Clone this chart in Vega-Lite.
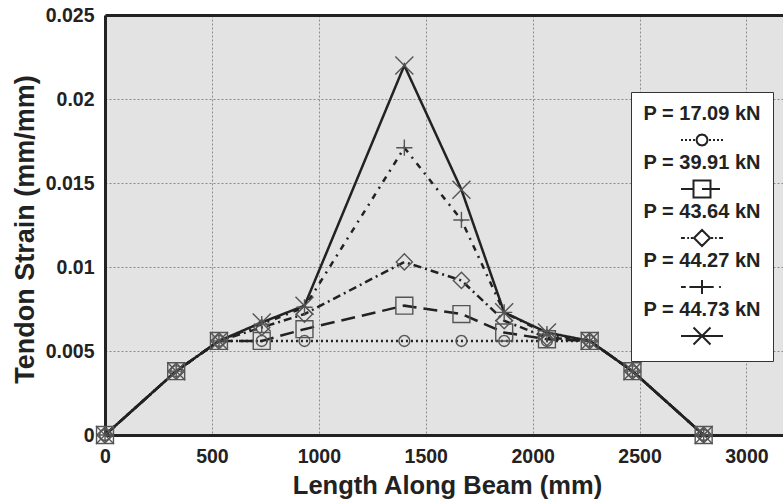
{
  "$schema": "https://vega.github.io/schema/vega-lite/v6.json",
  "width": 678,
  "height": 420,
  "autosize": {"type": "none"},
  "padding": {"left": 105, "top": 15, "right": 0, "bottom": 68},
  "background": "white",
  "config": {
    "font": "Liberation Sans",
    "view": {"fill": "#e3e3e3", "stroke": null}
  },
  "data": {
    "values": [
      {"length": 0, "strain": 0, "load": "P = 17.09 kN"},
      {"length": 333, "strain": 0.0038, "load": "P = 17.09 kN"},
      {"length": 533, "strain": 0.0056, "load": "P = 17.09 kN"},
      {"length": 733, "strain": 0.0056, "load": "P = 17.09 kN"},
      {"length": 933, "strain": 0.0056, "load": "P = 17.09 kN"},
      {"length": 1400, "strain": 0.0056, "load": "P = 17.09 kN"},
      {"length": 1667, "strain": 0.0056, "load": "P = 17.09 kN"},
      {"length": 1867, "strain": 0.0056, "load": "P = 17.09 kN"},
      {"length": 2067, "strain": 0.0056, "load": "P = 17.09 kN"},
      {"length": 2267, "strain": 0.0056, "load": "P = 17.09 kN"},
      {"length": 2467, "strain": 0.0038, "load": "P = 17.09 kN"},
      {"length": 2800, "strain": 0, "load": "P = 17.09 kN"},
      {"length": 0, "strain": 0, "load": "P = 39.91 kN"},
      {"length": 333, "strain": 0.0038, "load": "P = 39.91 kN"},
      {"length": 533, "strain": 0.0056, "load": "P = 39.91 kN"},
      {"length": 733, "strain": 0.0056, "load": "P = 39.91 kN"},
      {"length": 933, "strain": 0.0063, "load": "P = 39.91 kN"},
      {"length": 1400, "strain": 0.0077, "load": "P = 39.91 kN"},
      {"length": 1667, "strain": 0.0072, "load": "P = 39.91 kN"},
      {"length": 1867, "strain": 0.0061, "load": "P = 39.91 kN"},
      {"length": 2067, "strain": 0.0057, "load": "P = 39.91 kN"},
      {"length": 2267, "strain": 0.0056, "load": "P = 39.91 kN"},
      {"length": 2467, "strain": 0.0038, "load": "P = 39.91 kN"},
      {"length": 2800, "strain": 0, "load": "P = 39.91 kN"},
      {"length": 0, "strain": 0, "load": "P = 43.64 kN"},
      {"length": 333, "strain": 0.0038, "load": "P = 43.64 kN"},
      {"length": 533, "strain": 0.0056, "load": "P = 43.64 kN"},
      {"length": 733, "strain": 0.0064, "load": "P = 43.64 kN"},
      {"length": 933, "strain": 0.0072, "load": "P = 43.64 kN"},
      {"length": 1400, "strain": 0.0103, "load": "P = 43.64 kN"},
      {"length": 1667, "strain": 0.0092, "load": "P = 43.64 kN"},
      {"length": 1867, "strain": 0.0068, "load": "P = 43.64 kN"},
      {"length": 2067, "strain": 0.0058, "load": "P = 43.64 kN"},
      {"length": 2267, "strain": 0.0056, "load": "P = 43.64 kN"},
      {"length": 2467, "strain": 0.0038, "load": "P = 43.64 kN"},
      {"length": 2800, "strain": 0, "load": "P = 43.64 kN"},
      {"length": 0, "strain": 0, "load": "P = 44.27 kN"},
      {"length": 333, "strain": 0.0038, "load": "P = 44.27 kN"},
      {"length": 533, "strain": 0.0056, "load": "P = 44.27 kN"},
      {"length": 733, "strain": 0.0066, "load": "P = 44.27 kN"},
      {"length": 933, "strain": 0.0076, "load": "P = 44.27 kN"},
      {"length": 1400, "strain": 0.0171, "load": "P = 44.27 kN"},
      {"length": 1667, "strain": 0.0128, "load": "P = 44.27 kN"},
      {"length": 1867, "strain": 0.0073, "load": "P = 44.27 kN"},
      {"length": 2067, "strain": 0.006, "load": "P = 44.27 kN"},
      {"length": 2267, "strain": 0.0056, "load": "P = 44.27 kN"},
      {"length": 2467, "strain": 0.0038, "load": "P = 44.27 kN"},
      {"length": 2800, "strain": 0, "load": "P = 44.27 kN"},
      {"length": 0, "strain": 0, "load": "P = 44.73 kN"},
      {"length": 333, "strain": 0.0038, "load": "P = 44.73 kN"},
      {"length": 533, "strain": 0.0056, "load": "P = 44.73 kN"},
      {"length": 733, "strain": 0.0067, "load": "P = 44.73 kN"},
      {"length": 933, "strain": 0.0077, "load": "P = 44.73 kN"},
      {"length": 1400, "strain": 0.022, "load": "P = 44.73 kN"},
      {"length": 1667, "strain": 0.0146, "load": "P = 44.73 kN"},
      {"length": 1867, "strain": 0.0073, "load": "P = 44.73 kN"},
      {"length": 2067, "strain": 0.0061, "load": "P = 44.73 kN"},
      {"length": 2267, "strain": 0.0056, "load": "P = 44.73 kN"},
      {"length": 2467, "strain": 0.0038, "load": "P = 44.73 kN"},
      {"length": 2800, "strain": 0, "load": "P = 44.73 kN"}
    ]
  },
  "layer": [
    {
      "mark": {"type": "line", "strokeWidth": 2.5, "color": "#222"},
      "encoding": {
        "x": {
          "field": "length", "type": "quantitative",
          "scale": {"domain": [0, 3171], "nice": false, "zero": false},
          "axis": {
            "orient": "bottom",
            "values": [0, 500, 1000, 1500, 2000, 2500, 3000],
            "format": "d",
            "labelFlush": false,
            "labelFont": "Liberation Sans", "labelFontSize": 19.5, "labelFontWeight": "bold", "labelColor": "#222",
            "labelBaseline": "alphabetic", "labelPadding": 27,
            "ticks": false,
            "domainColor": "#222", "domainWidth": 3,
            "grid": true, "gridColor": "#8a8a8a", "gridDash": [2, 2], "gridWidth": 1,
            "title": "Length Along Beam (mm)",
            "titleFont": "Liberation Sans", "titleFontSize": 25.5, "titleFontWeight": "bold", "titleColor": "#222",
            "titleX": 342, "titleY": 58, "titleBaseline": "alphabetic", "titleAlign": "center", "titleAnchor": null
          }
        },
        "y": {
          "field": "strain", "type": "quantitative",
          "scale": {"domain": [0, 0.025], "nice": false},
          "axis": {
            "values": [0, 0.005, 0.01, 0.015, 0.02, 0.025],
            "format": "~g",
            "labelFlush": false,
            "labelFont": "Liberation Sans", "labelFontSize": 19.5, "labelFontWeight": "bold", "labelColor": "#222",
            "labelPadding": 11,
            "ticks": false,
            "domainColor": "#222", "domainWidth": 3,
            "grid": true, "gridColor": "#8a8a8a", "gridDash": [2, 2], "gridWidth": 1,
            "title": "Tendon Strain (mm/mm)",
            "titleFont": "Liberation Sans", "titleFontSize": 27, "titleFontWeight": "bold", "titleColor": "#222",
            "titleX": -72, "titleY": 214, "titleBaseline": "alphabetic", "titleAlign": "center", "titleAngle": -90
          }
        },
        "strokeDash": {
          "field": "load", "type": "nominal",
          "scale": {
            "domain": ["P = 17.09 kN", "P = 39.91 kN", "P = 43.64 kN", "P = 44.27 kN", "P = 44.73 kN"],
            "range": [[2, 3], [14, 7], [8, 4, 2, 4], [2, 6, 6, 6], [1, 0]]
          },
          "legend": null
        }
      }
    },
    {
      "mark": {"type": "point", "filled": false, "stroke": "#555", "strokeWidth": 1.4, "size": 324, "opacity": 1},
      "encoding": {
        "x": {"field": "length", "type": "quantitative", "axis": null},
        "y": {"field": "strain", "type": "quantitative"},
        "shape": {
          "field": "load", "type": "nominal",
          "scale": {
            "domain": ["P = 17.09 kN", "P = 39.91 kN", "P = 43.64 kN", "P = 44.27 kN", "P = 44.73 kN"],
            "range": [
              "M0.61,0L0.528,0.305L0.305,0.528L0,0.61L-0.305,0.528L-0.528,0.305L-0.61,0L-0.528,-0.305L-0.305,-0.528L0,-0.61L0.305,-0.528L0.528,-0.305Z",
              "M-0.94,-0.94H0.94V0.94H-0.94Z",
              "M-0.9,0L0,-0.9L0.9,0L0,0.9Z",
              "M-0.9,0H0.9M0,-0.9V0.9",
              "M-1,-1L1,1M-1,1L1,-1"
            ]
          },
          "legend": null
        }
      }
    },
    {
      "mark": {"type": "point", "filled": false, "stroke": "#222", "opacity": 0},
      "encoding": {
        "x": {
          "field": "length", "type": "quantitative",
          "axis": {"orient": "top", "labels": false, "ticks": false, "grid": false, "title": null, "domain": true, "domainColor": "#222", "domainWidth": 3}
        },
        "y": {"field": "strain", "type": "quantitative"},
        "shape": {
          "field": "load", "type": "nominal",
          "scale": {
            "domain": ["P = 17.09 kN", "P = 39.91 kN", "P = 43.64 kN", "P = 44.27 kN", "P = 44.73 kN"],
            "range": [
              "M-2.333,2.889H-2.111M-1.889,2.889H-1.667M-1.444,2.889H-1.222M-1,2.889H-0.778M0.778,2.889H1M1.222,2.889H1.444M1.667,2.889H1.889M2.111,2.889H2.333M0.611,2.889L0.529,3.195L0.306,3.418L0,3.5L-0.306,3.418L-0.529,3.195L-0.611,2.889L-0.529,2.583L-0.306,2.36L0,2.278L0.306,2.36L0.529,2.583Z",
              "M-2.333,2.889H-0.944M-0.944,1.945H0.944V3.833H-0.944ZM0,2.889H2",
              "M-2.333,2.889H-1.9M-1.64,2.889H-1.44M-1.24,2.889H-1M-0.889,2.889L0,2L0.889,2.889L0,3.778ZM1,2.889H1.24M1.44,2.889H1.64M1.9,2.889H2.333",
              "M-2.333,2.889H-1.8M-1.4,2.889H0.778M0,2.111V3.667M0.778,2.889H1.3M1.9,2.889H2.1",
              "M-2.333,2.889H2.333M-0.944,1.945L0.944,3.833M-0.944,3.833L0.944,1.945"
            ]
          },
          "legend": {
            "orient": "none", "legendX": 526, "legendY": 77,
            "title": null,
            "padding": 12,
            "fillColor": "white", "strokeColor": "#333",
            "symbolSize": 324, "symbolStrokeWidth": 2, "symbolStrokeColor": "#222", "symbolFillColor": "transparent",
            "symbolOffset": 49, "symbolOpacity": 1,
            "labelFont": "Liberation Sans", "labelFontSize": 20, "labelFontWeight": "bold", "labelColor": "#222",
            "labelOffset": -10, "labelAlign": "center", "labelLimit": 300,
            "rowPadding": 0, "gridAlign": "all"
          }
        }
      }
    }
  ],
  "resolve": {
    "scale": {"shape": "independent"},
    "legend": {"shape": "independent"},
    "axis": {"x": "independent"}
  }
}
